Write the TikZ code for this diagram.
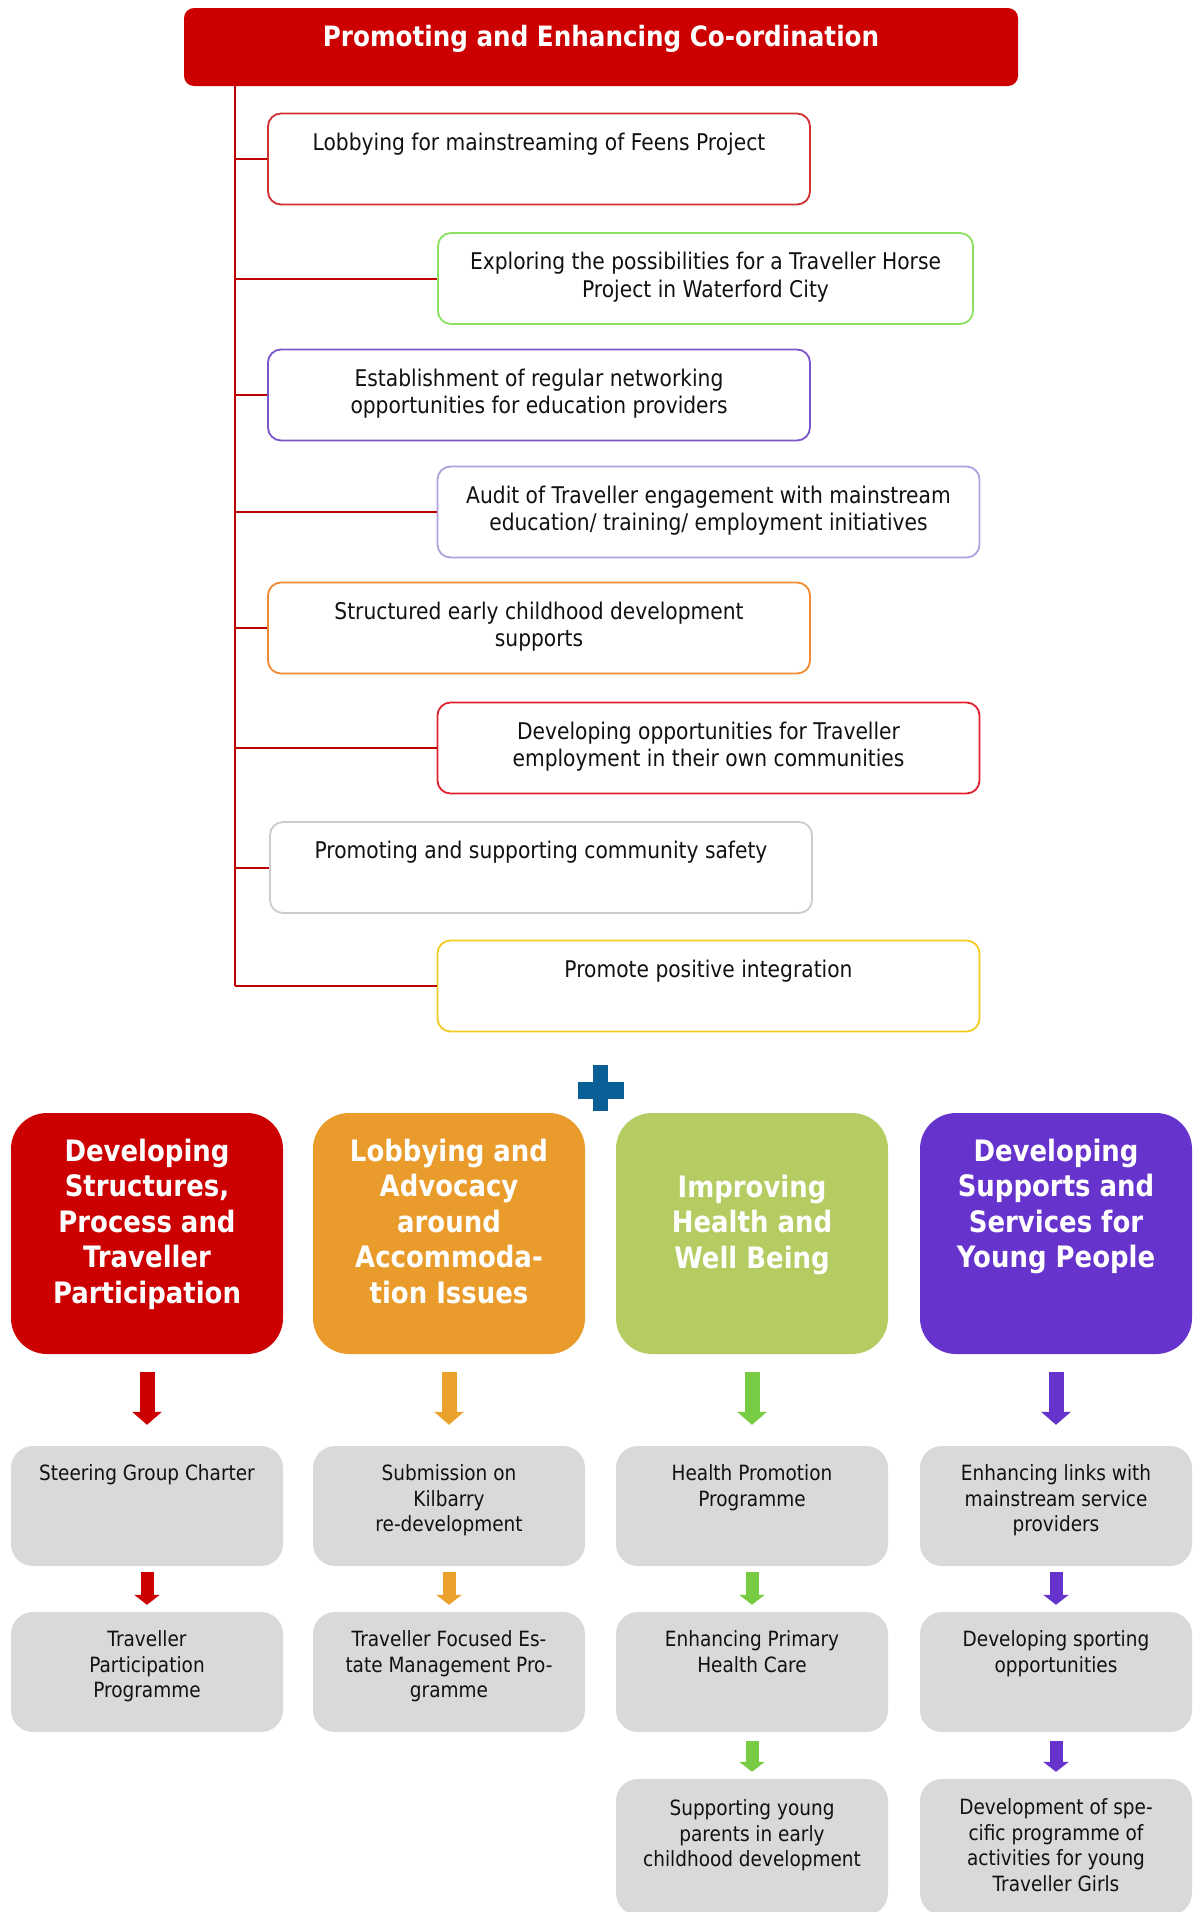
\documentclass[tikz,border=0pt]{standalone}
\usepackage{fontspec}
\setmainfont{DejaVu Sans}[FakeStretch=0.88]
\usetikzlibrary{arrows.meta}
\definecolor{hdrred}{HTML}{CC0000}
\definecolor{trunkred}{HTML}{C00000}
\definecolor{bdred}{HTML}{D03030}
\definecolor{bdgreen}{HTML}{8CE060}
\definecolor{bdpurple}{HTML}{7A55CC}
\definecolor{bdlilac}{HTML}{B0A0E0}
\definecolor{bdorange}{HTML}{F08A30}
\definecolor{bdredtwo}{HTML}{E02030}
\definecolor{bdgrey}{HTML}{CCCCCC}
\definecolor{bdyellow}{HTML}{F0CC20}
\definecolor{plusblue}{HTML}{0A5F96}
\definecolor{colred}{HTML}{CC0000}
\definecolor{colorange}{HTML}{E99C2B}
\definecolor{colgreen}{HTML}{B5CC62}
\definecolor{colpurple}{HTML}{6633CC}
\definecolor{arrred}{HTML}{CC0000}
\definecolor{arrorange}{HTML}{EBA22C}
\definecolor{arrgreen}{HTML}{77CC44}
\definecolor{arrpurple}{HTML}{6633CC}
\definecolor{greyfill}{HTML}{D9D9D9}
\definecolor{txt}{HTML}{111111}
\begin{document}
\begin{tikzpicture}[x=1pt,y=-1pt,
  topbox/.style={draw, line width=1.8pt, rounded corners=13pt, fill=white, minimum width=542pt, minimum height=91pt, inner sep=0pt},
  toptext/.style={anchor=north, align=center, inner sep=0pt, text=txt, font=\fontsize{23}{27.5}\selectfont},
  colbox/.style={rounded corners=36pt, minimum width=272pt, minimum height=241pt, inner sep=0pt},
  coltext/.style={anchor=north, align=center, inner sep=0pt, text=white, font=\bfseries\fontsize{29.5}{35.5}\selectfont},
  greybx/.style={fill=greyfill, rounded corners=22pt, minimum width=272pt, minimum height=120pt, inner sep=0pt},
  greytext/.style={anchor=north, align=center, inner sep=0pt, text=txt, font=\fontsize{21}{25.5}\selectfont},
  bigarrow/.style={line width=15pt, -{Triangle[width=29pt,length=13pt]}},
  smallarrow/.style={line width=13pt, -{Triangle[width=25pt,length=10pt]}},
  link/.style={draw=trunkred, line width=2pt}
]
\fill[white] (0,0) rectangle (1194,1912);
\useasboundingbox (0,0) rectangle (1194,1912);

% header
\node[fill=hdrred, rounded corners=10pt, minimum width=834pt, minimum height=78pt, inner sep=0pt] (hdr) at (601,47) {};
\node[text=white, font=\bfseries\fontsize{28}{32}\selectfont, inner sep=0pt] (hdrtext) at (601,39) {Promoting and Enhancing Co-ordination};

\coordinate (trunk) at (235,0);

% top boxes
\node[topbox, draw=bdred] (b1) at (539,159) {};
\node[topbox, draw=bdgreen, minimum width=535pt] (b2) at (705.5,278.5) {};
\node[topbox, draw=bdpurple] (b3) at (539,395) {};
\node[topbox, draw=bdlilac] (b4) at (708.5,512) {};
\node[topbox, draw=bdorange] (b5) at (539,628) {};
\node[topbox, draw=bdredtwo] (b6) at (708.5,748) {};
\node[topbox, draw=bdgrey] (b7) at (541,867.5) {};
\node[topbox, draw=bdyellow] (b8) at (708.5,986) {};

\draw[link] (hdr.south -| trunk) -- (b8.west -| trunk);
\foreach \b in {b1,b2,b3,b4,b5,b6,b7,b8}{\draw[link] (\b.west -| trunk) -- (\b.west);}

\node[toptext] (t1) at ([yshift=-20pt]b1.north) {Lobbying for mainstreaming of Feens Project};
\node[toptext] (t2) at ([yshift=-20pt]b2.north) {Exploring the possibilities for a Traveller Horse\\Project in Waterford City};
\node[toptext] (t3) at ([yshift=-20pt]b3.north) {Establishment of regular networking\\opportunities for education providers};
\node[toptext] (t4) at ([yshift=-20pt]b4.north) {Audit of Traveller engagement with mainstream\\education/ training/ employment initiatives};
\node[toptext] (t5) at ([yshift=-20pt]b5.north) {Structured early childhood development\\supports};
\node[toptext] (t6) at ([yshift=-20pt]b6.north) {Developing opportunities for Traveller\\employment in their own communities};
\node[toptext] (t7) at ([yshift=-20pt]b7.north) {Promoting and supporting community safety};
\node[toptext] (t8) at ([yshift=-20pt]b8.north) {Promote positive integration};

% plus sign
\fill[plusblue] (578,1082) rectangle (624,1099);
\fill[plusblue] (593,1065) rectangle (608,1111);

% coloured boxes
\node[colbox, fill=colred] (c1) at (147,1233.5) {};
\node[colbox, fill=colorange] (c2) at (449,1233.5) {};
\node[colbox, fill=colgreen] (c3) at (752,1233.5) {};
\node[colbox, fill=colpurple] (c4) at (1056,1233.5) {};
\node[coltext] (ct1) at ([yshift=-26pt]c1.north) {Developing\\Structures,\\Process and\\Traveller\\Participation};
\node[coltext] (ct2) at ([yshift=-26pt]c2.north) {Lobbying and\\Advocacy\\around\\Accommoda-\\tion Issues};
\node[coltext] (ct3) at ([yshift=-62pt]c3.north) {Improving\\Health and\\Well Being};
\node[coltext] (ct4) at ([yshift=-26pt]c4.north) {Developing\\Supports and\\Services for\\Young People};

% grey boxes
\node[greybx] (g11) at (147,1506) {};
\node[greybx] (g12) at (449,1506) {};
\node[greybx] (g13) at (752,1506) {};
\node[greybx] (g14) at (1056,1506) {};
\node[greybx] (g21) at (147,1672) {};
\node[greybx] (g22) at (449,1672) {};
\node[greybx] (g23) at (752,1672) {};
\node[greybx] (g24) at (1056,1672) {};
\node[greybx, minimum height=136pt] (g33) at (752,1847) {};
\node[greybx, minimum height=136pt] (g34) at (1056,1847) {};

\node[greytext] (gt11) at ([yshift=-19pt]g11.north) {Steering Group Charter};
\node[greytext] (gt12) at ([yshift=-19pt]g12.north) {Submission on\\Kilbarry\\re-development};
\node[greytext] (gt13) at ([yshift=-19pt]g13.north) {Health Promotion\\Programme};
\node[greytext] (gt14) at ([yshift=-19pt]g14.north) {Enhancing links with\\mainstream service\\providers};
\node[greytext] (gt21) at ([yshift=-19pt]g21.north) {Traveller\\Participation\\Programme};
\node[greytext] (gt22) at ([yshift=-19pt]g22.north) {Traveller Focused Es-\\tate Management Pro-\\gramme};
\node[greytext] (gt23) at ([yshift=-19pt]g23.north) {Enhancing Primary\\Health Care};
\node[greytext] (gt24) at ([yshift=-19pt]g24.north) {Developing sporting\\opportunities};
\node[greytext] (gt33) at ([yshift=-21pt]g33.north) {Supporting young\\parents in early\\childhood development};
\node[greytext] (gt34) at ([yshift=-20pt]g34.north) {Development of spe-\\cific programme of\\activities for young\\Traveller Girls};

% arrows
\draw[bigarrow, arrred, shorten <=18pt, shorten >=21pt] (c1.south) -- (g11.north);
\draw[bigarrow, arrorange, shorten <=18pt, shorten >=21pt] (c2.south) -- (g12.north);
\draw[bigarrow, arrgreen, shorten <=18pt, shorten >=21pt] (c3.south) -- (g13.north);
\draw[bigarrow, arrpurple, shorten <=18pt, shorten >=21pt] (c4.south) -- (g14.north);
\draw[smallarrow, arrred, shorten <=6pt, shorten >=7pt] (g11.south) -- (g21.north);
\draw[smallarrow, arrorange, shorten <=6pt, shorten >=7pt] (g12.south) -- (g22.north);
\draw[smallarrow, arrgreen, shorten <=6pt, shorten >=7pt] (g13.south) -- (g23.north);
\draw[smallarrow, arrpurple, shorten <=6pt, shorten >=7pt] (g14.south) -- (g24.north);
\draw[smallarrow, arrgreen, shorten <=9pt, shorten >=7pt] (g23.south) -- (g33.north);
\draw[smallarrow, arrpurple, shorten <=9pt, shorten >=7pt] (g24.south) -- (g34.north);
\end{tikzpicture}
\end{document}
